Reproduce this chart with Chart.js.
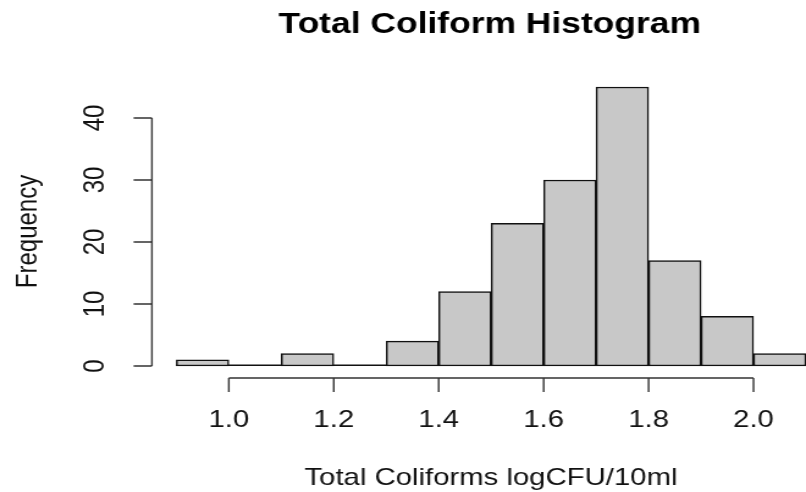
<!DOCTYPE html>
<html>
<head>
<meta charset="utf-8">
<script src="https://cdn.jsdelivr.net/npm/chart.js@4"></script>
<style>
  body { margin: 0; background: #fff; }
</style>
</head>
<body>
<canvas id="histogram" width="660" height="492" style="width:806px;height:492px"></canvas>
<script>
// === DATA === //

const chartTitle = "Total Coliform Histogram"
const xAxisTitle = "Total Coliforms logCFU/10ml"
const yAxisTitle = "Frequency"

const binEdges = [0.9, 1.0, 1.1, 1.2, 1.3, 1.4, 1.5, 1.6, 1.7, 1.8, 1.9, 2.0, 2.1]
const binCounts = [1, 0, 2, 0, 4, 12, 23, 30, 45, 17, 8, 2]

const xTicks = [1.0, 1.2, 1.4, 1.6, 1.8, 2.0]
const yTicks = [0, 10, 20, 30, 40]

// === CHART === //

const fontFamily = "'Liberation Sans', Arial, Helvetica, sans-serif"

const histogramPoints = binCounts.map((count, i) => ({
  x: (binEdges[i] + binEdges[i + 1]) / 2,
  y: count
}))

// R-style axes: lines only span the tick range, drawn off the plot region
const baseAxesPlugin = {
  id: 'baseAxes',
  beforeDatasetsDraw(chart) {
    const ctx = chart.ctx
    const x = chart.scales.x
    const y = chart.scales.y
    ctx.save()
    ctx.strokeStyle = '#111'
    ctx.lineWidth = 1.5
    ctx.beginPath()
    ctx.moveTo(x.getPixelForValue(binEdges[0]), y.getPixelForValue(0) - 0.75)
    ctx.lineTo(x.getPixelForValue(binEdges[binEdges.length - 1]), y.getPixelForValue(0) - 0.75)
    ctx.stroke()
    ctx.restore()
  },
  afterDraw(chart) {
    const ctx = chart.ctx
    const area = chart.chartArea
    const x = chart.scales.x
    const y = chart.scales.y
    ctx.save()
    ctx.strokeStyle = '#333'
    ctx.lineWidth = 1.4
    ctx.fillStyle = '#111'

    // x axis
    const axisY = area.bottom + 12
    ctx.beginPath()
    ctx.moveTo(x.getPixelForValue(xTicks[0]), axisY)
    ctx.lineTo(x.getPixelForValue(xTicks[xTicks.length - 1]), axisY)
    xTicks.forEach(t => {
      ctx.moveTo(x.getPixelForValue(t), axisY)
      ctx.lineTo(x.getPixelForValue(t), axisY + 14)
    })
    ctx.stroke()
    ctx.font = `24px ${fontFamily}`
    ctx.textAlign = 'center'
    ctx.textBaseline = 'middle'
    xTicks.forEach(t => ctx.fillText(t.toFixed(1), x.getPixelForValue(t), axisY + 42))

    // y axis
    const axisX = area.left - 20
    ctx.beginPath()
    ctx.moveTo(axisX, y.getPixelForValue(yTicks[0]))
    ctx.lineTo(axisX, y.getPixelForValue(yTicks[yTicks.length - 1]))
    yTicks.forEach(t => {
      ctx.moveTo(axisX, y.getPixelForValue(t))
      ctx.lineTo(axisX - 15, y.getPixelForValue(t))
    })
    ctx.stroke()
    yTicks.forEach(t => {
      ctx.save()
      ctx.translate(axisX - 46, y.getPixelForValue(t))
      ctx.rotate(-Math.PI / 2)
      ctx.fillText(String(t), 0, 0)
      ctx.restore()
    })

    // titles
    ctx.fillStyle = '#000'
    ctx.textBaseline = 'alphabetic'
    ctx.font = `bold 29px ${fontFamily}`
    ctx.fillText(chartTitle, 401, 32.5)
    ctx.font = `24px ${fontFamily}`
    ctx.fillStyle = '#111'
    ctx.fillText(xAxisTitle, 402, 485)
    ctx.save()
    ctx.translate(23, (area.top + area.bottom) / 2 + 5)
    ctx.rotate(-Math.PI / 2)
    ctx.textBaseline = 'middle'
    ctx.fillText(yAxisTitle, 0, 0)
    ctx.restore()

    ctx.restore()
  }
}

new Chart(document.getElementById('histogram'), {
  type: 'bar',
  data: {
    datasets: [{
      label: chartTitle,
      data: histogramPoints,
      backgroundColor: '#c8c8c8',
      borderColor: '#111',
      borderWidth: 1.5,
      borderSkipped: false,
      barPercentage: 1,
      categoryPercentage: 1,
      clip: false
    }]
  },
  options: {
    responsive: false,
    animation: false,
    layout: {
      padding: { left: 144.4, right: -1.4, top: 87, bottom: 126 }
    },
    scales: {
      x: { type: 'linear', min: binEdges[0], max: binEdges[binEdges.length - 1], offset: false, display: false },
      y: { type: 'linear', min: 0, max: 45, display: false }
    },
    plugins: {
      legend: { display: false },
      tooltip: { enabled: false }
    }
  },
  plugins: [baseAxesPlugin]
});
</script>
</body>
</html>
